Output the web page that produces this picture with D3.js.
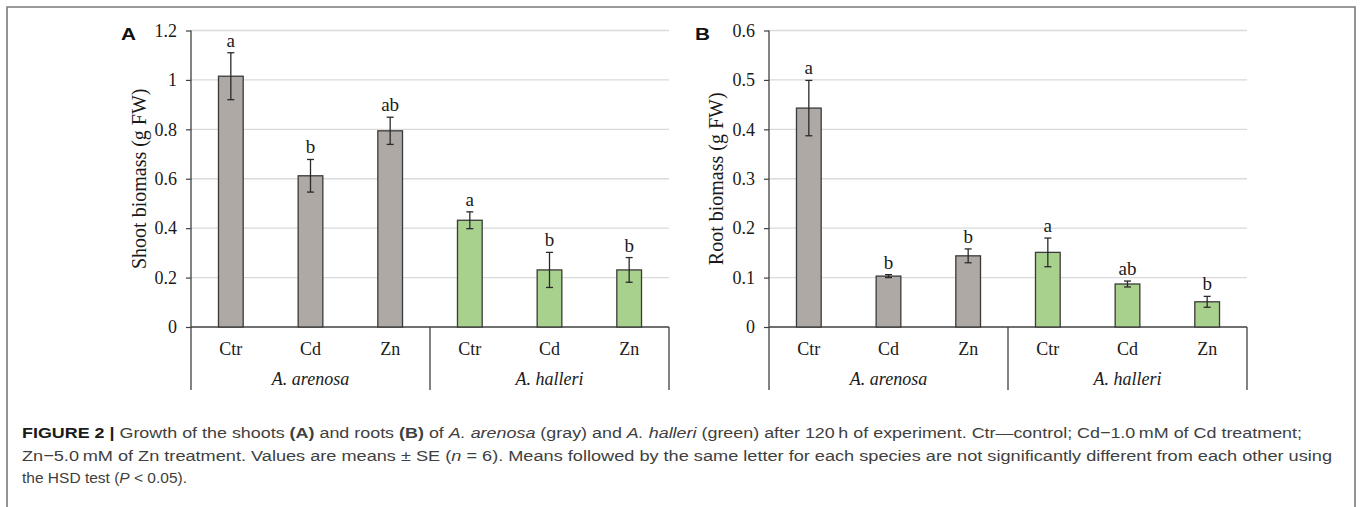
<!DOCTYPE html>
<html>
<head>
<meta charset="utf-8">
<script src="https://cdn.jsdelivr.net/npm/d3@7/dist/d3.min.js"></script>
<style>
    body { margin: 0; background: #fff; }
    svg { display: block; }
</style>
</head>
<body>
<div id="chart"></div>
<script>
// ---- data ----
const treatments = ["Ctr", "Cd", "Zn"];
const species = ["A. arenosa", "A. halleri"];
const speciesColors = ["#aea9a5", "#a9d18e"];

const shootMean = [1.015, 0.612, 0.794, 0.432, 0.231, 0.231];
const shootSE = [0.095, 0.066, 0.055, 0.034, 0.071, 0.050];
const shootLetters = ["a", "b", "ab", "a", "b", "b"];
const shootTicks = [0, 0.2, 0.4, 0.6, 0.8, 1, 1.2];

const rootMean = [0.443, 0.103, 0.144, 0.151, 0.087, 0.051];
const rootSE = [0.056, 0.003, 0.014, 0.029, 0.006, 0.011];
const rootLetters = ["a", "b", "b", "a", "ab", "b"];
const rootTicks = [0, 0.1, 0.2, 0.3, 0.4, 0.5, 0.6];

// one entry per bar: species x treatment
const cats = [];
species.forEach((s, si) => {
    treatments.forEach((t) => cats.push({species: s, si: si, treatment: t, key: s + "|" + t}));
});

const W = 1360, H = 507;
const serif = "'Liberation Serif', 'Times New Roman', serif";
const sans = "'Liberation Sans', Arial, sans-serif";

const svg = d3.select("#chart").append("svg")
    .attr("width", W)
    .attr("height", H);

// figure frame (open at the bottom, it runs past the crop)
svg.append("path")
    .attr("d", "M7," + H + " V7 H1355 V" + H)
    .attr("fill", "none")
    .attr("stroke", "#7a7a7a")
    .attr("stroke-width", 1.6);

function drawPanel(cfg) {
    let g = svg.append("g");
    let plotTop = 30.5, plotBottom = 327, groupBottom = 390;

    let x = d3.scaleBand()
        .domain(cats.map((d) => d.key))
        .range([cfg.left, cfg.right])
        .paddingInner(0.69)
        .paddingOuter(0.345);

    let y = d3.scaleLinear()
        .domain([0, d3.max(cfg.ticks)])
        .range([plotBottom, plotTop]);

    // gridlines
    g.selectAll(".grid")
        .data(cfg.ticks.filter((t) => t > 0))
        .enter()
        .append("line")
        .attr("x1", cfg.left)
        .attr("x2", cfg.right)
        .attr("y1", (d) => y(d))
        .attr("y2", (d) => y(d))
        .attr("stroke", "#dadada")
        .attr("stroke-width", 1.3);

    // y axis
    let yAxis = g.append("g")
        .attr("transform", "translate(" + cfg.left + ",0)")
        .call(d3.axisLeft(y).tickValues(cfg.ticks).tickSize(5).tickPadding(9).tickFormat(d3.format("~g")));
    yAxis.select(".domain").remove();
    yAxis.selectAll(".tick line").attr("stroke", "#404040").attr("stroke-width", 1.2);
    yAxis.selectAll(".tick text")
        .style("font-family", serif)
        .style("font-size", "18px")
        .attr("fill", "#1a1a1a");

    // axis line running down through the category area
    g.append("line")
        .attr("x1", cfg.left).attr("x2", cfg.left)
        .attr("y1", plotTop).attr("y2", groupBottom)
        .attr("stroke", "#404040").attr("stroke-width", 1.3);

    // baseline
    g.append("line")
        .attr("x1", cfg.left).attr("x2", cfg.right)
        .attr("y1", y(0)).attr("y2", y(0))
        .attr("stroke", "#404040").attr("stroke-width", 1.3);

    // group separators
    let step = x.step();
    let boundaries = [3, 6].map((i) => i < cats.length
        ? x(cats[i].key) - step * x.paddingInner() / 2
        : cfg.right);
    g.selectAll(".sep")
        .data(boundaries)
        .enter()
        .append("line")
        .attr("x1", (d) => d).attr("x2", (d) => d)
        .attr("y1", y(0)).attr("y2", groupBottom)
        .attr("stroke", "#404040").attr("stroke-width", 1.3);

    // treatment labels
    g.selectAll(".cat")
        .data(cats)
        .enter()
        .append("text")
        .attr("x", (d) => x(d.key) + x.bandwidth() / 2)
        .attr("y", 355)
        .attr("text-anchor", "middle")
        .style("font-family", serif)
        .style("font-size", "18px")
        .attr("fill", "#1a1a1a")
        .text((d) => d.treatment);

    // species labels
    g.selectAll(".species")
        .data(species)
        .enter()
        .append("text")
        .attr("x", (d, i) => {
            let first = cats[i * 3], last = cats[i * 3 + 2];
            return (x(first.key) + x(last.key) + x.bandwidth()) / 2;
        })
        .attr("y", 385)
        .attr("text-anchor", "middle")
        .style("font-family", serif)
        .style("font-size", "18px")
        .style("font-style", "italic")
        .attr("fill", "#1a1a1a")
        .text((d) => d);

    // bars
    g.selectAll(".bar")
        .data(cats)
        .enter()
        .append("rect")
        .attr("x", (d) => x(d.key))
        .attr("y", (d, i) => y(cfg.mean[i]))
        .attr("width", x.bandwidth())
        .attr("height", (d, i) => y(0) - y(cfg.mean[i]))
        .attr("fill", (d) => speciesColors[d.si])
        .attr("stroke", "#3a3a3a")
        .attr("stroke-width", 1.3);

    // error bars + significance letters
    cats.forEach((d, i) => {
        let cx = x(d.key) + x.bandwidth() / 2;
        let hi = y(cfg.mean[i] + cfg.se[i]);
        let lo = y(cfg.mean[i] - cfg.se[i]);
        let eb = g.append("g")
            .attr("stroke", "#2a2a2a")
            .attr("stroke-width", 1.3);
        eb.append("line").attr("x1", cx).attr("x2", cx).attr("y1", hi).attr("y2", lo);
        eb.append("line").attr("x1", cx - 3.5).attr("x2", cx + 3.5).attr("y1", hi).attr("y2", hi);
        eb.append("line").attr("x1", cx - 3.5).attr("x2", cx + 3.5).attr("y1", lo).attr("y2", lo);

        g.append("text")
            .attr("x", cx)
            .attr("y", hi - 6)
            .attr("text-anchor", "middle")
            .style("font-family", serif)
            .style("font-size", "19px")
            .attr("fill", "#1a1a1a")
            .text(cfg.letters[i]);
    });

    // y axis title
    g.append("text")
        .attr("transform", "translate(" + cfg.titleX + "," + (plotTop + plotBottom) / 2 + ") rotate(-90)")
        .attr("text-anchor", "middle")
        .style("font-family", serif)
        .style("font-size", "20px")
        .attr("fill", "#1a1a1a")
        .text(cfg.title);

    // panel letter
    g.append("text")
        .attr("x", cfg.letterX)
        .attr("y", 40)
        .attr("textLength", 15)
        .attr("lengthAdjust", "spacingAndGlyphs")
        .style("font-family", sans)
        .style("font-size", "16px")
        .style("font-weight", "bold")
        .attr("fill", "#111")
        .text(cfg.panel);
}

drawPanel({
    left: 191, right: 669, ticks: shootTicks,
    mean: shootMean, se: shootSE, letters: shootLetters,
    title: "Shoot biomass (g FW)", titleX: 146, panel: "A", letterX: 121
});

drawPanel({
    left: 769, right: 1247, ticks: rootTicks,
    mean: rootMean, se: rootSE, letters: rootLetters,
    title: "Root biomass (g FW)", titleX: 723, panel: "B", letterX: 695
});

// ---- caption ----
const captionLines = [
    [
        {t: "FIGURE 2 | ", b: true, dark: true},
        {t: "Growth of the shoots "}, {t: "(A)", b: true}, {t: " and roots "}, {t: "(B)", b: true},
        {t: " of "}, {t: "A. arenosa", i: true}, {t: " (gray) and "}, {t: "A. halleri", i: true},
        {t: " (green) after 120\u2009h of experiment. Ctr\u2014control; Cd\u22121.0\u2009mM of Cd treatment;"}
    ],
    [
        {t: "Zn\u22125.0\u2009mM of Zn treatment. Values are means \u00b1 SE ("}, {t: "n", i: true},
        {t: " = 6). Means followed by the same letter for each species are not significantly different from each other using"}
    ],
    [
        {t: "the HSD test ("}, {t: "P", i: true}, {t: " < 0.05)."}
    ]
];
const captionY = [438, 461, 483];
const captionWidth = [1280, 1310, null];

captionLines.forEach((parts, li) => {
    let txt = svg.append("text")
        .attr("x", 22)
        .attr("y", captionY[li])
        .style("font-family", sans)
        .style("font-size", "15.5px")
        .attr("fill", "#404040");
    if (captionWidth[li]) {
        txt.attr("textLength", captionWidth[li]).attr("lengthAdjust", "spacingAndGlyphs");
    }
    parts.forEach((p) => {
        txt.append("tspan")
            .style("font-weight", p.b ? "bold" : null)
            .style("font-style", p.i ? "italic" : null)
            .attr("fill", p.dark ? "#1a1a1a" : null)
            .text(p.t);
    });
});
</script>
</body>
</html>
